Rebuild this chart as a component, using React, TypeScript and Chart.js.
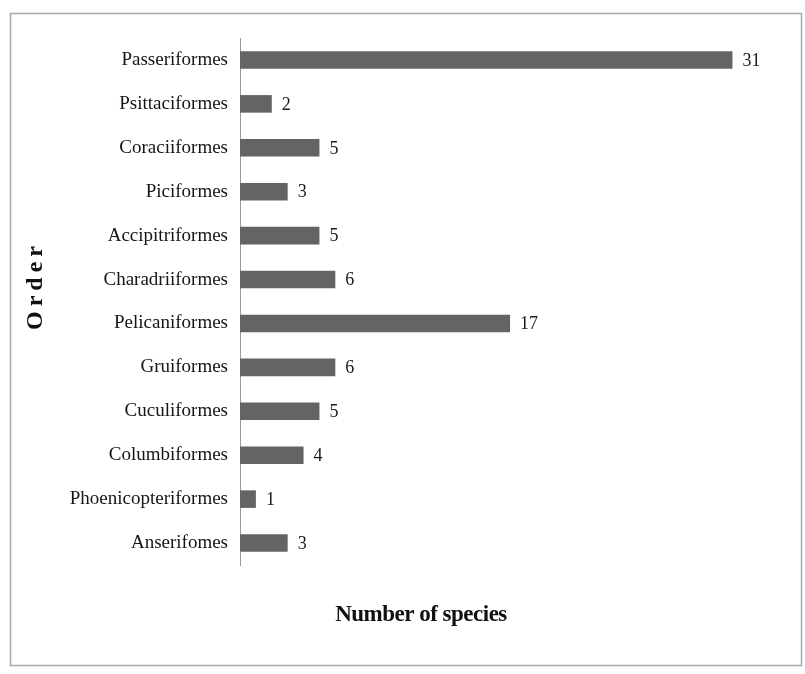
import React, { useEffect, useRef } from "react";
import { Chart, registerables } from "chart.js";

Chart.register(...registerables);

const categories = [
  "Passeriformes",
  "Psittaciformes",
  "Coraciiformes",
  "Piciformes",
  "Accipitriformes",
  "Charadriiformes",
  "Pelicaniformes",
  "Gruiformes",
  "Cuculiformes",
  "Columbiformes",
  "Phoenicopteriformes",
  "Anserifomes",
];
const speciesCounts = [31, 2, 5, 3, 5, 6, 17, 6, 5, 4, 1, 3];
const xTitle = "Number of species";
const yTitle = "Order";

const SERIF = "'Liberation Serif', 'Times New Roman', serif";

const frameAndLabels = {
  id: "frameAndLabels",
  beforeDraw(chart: any) {
    const ctx = chart.ctx;
    ctx.save();
    ctx.strokeStyle = "#a8a8a8";
    ctx.lineWidth = 1.5;
    ctx.strokeRect(10.5, 13.5, 791, 652);
    ctx.restore();
  },
  afterDatasetsDraw(chart: any) {
    const ctx = chart.ctx;
    const meta = chart.getDatasetMeta(0);
    ctx.save();
    ctx.fillStyle = "#1a1a1a";
    ctx.font = `18px ${SERIF}`;
    ctx.textAlign = "left";
    ctx.textBaseline = "middle";
    meta.data.forEach((bar: any, i: number) => {
      ctx.fillText(String(speciesCounts[i]), bar.x + 10, bar.y + 1);
    });
    // x title
    const ca = chart.chartArea;
    ctx.fillStyle = "#111";
    ctx.font = `bold 23px ${SERIF}`;
    ctx.textAlign = "center";
    (ctx as any).letterSpacing = "-0.5px";
    ctx.fillText(xTitle, ca.left + 181, ca.bottom + 50);
    // y title
    ctx.translate(36, (ca.top + ca.bottom) / 2 - 16);
    ctx.rotate(-Math.PI / 2);
    ctx.font = `bold 24px ${SERIF}`;
    (ctx as any).letterSpacing = "5px";
    ctx.textAlign = "center";
    ctx.fillText(yTitle, 0, 0);
    ctx.restore();
  },
};

export default function App() {
  const ref = useRef<HTMLCanvasElement | null>(null);
  useEffect(() => {
    document.body.style.margin = "0";
    if (!ref.current) return;
    const chart = new Chart(ref.current, {
      type: "bar",
      data: {
        labels: categories,
        datasets: [
          {
            data: speciesCounts,
            backgroundColor: "#646464",
            borderWidth: 0,
            barPercentage: 0.8,
            categoryPercentage: 0.5,
          },
        ],
      },
      options: {
        indexAxis: "y",
        animation: false,
        responsive: false,
        devicePixelRatio: 1,
        layout: { padding: { left: 0, top: 38, right: 9, bottom: 109 } },
        plugins: {
          legend: { display: false },
          tooltip: { enabled: false },
          title: { display: false },
        },
        scales: {
          x: {
            display: false,
            min: 0,
            max: 35,
          },
          y: {
            grid: { display: false, drawTicks: false },
            border: { display: true, color: "#9a9a9a", width: 1 },
            ticks: {
              color: "#151515",
              font: { family: SERIF, size: 19 },
              padding: 12,
            },
            afterFit(scale: any) {
              scale.width = 240;
            },
          },
        },
      },
      plugins: [frameAndLabels],
    });
    return () => chart.destroy();
  }, []);
  return (
    <div style={{ width: 805, height: 674, background: "#fff" }}>
      <canvas ref={ref} width={805} height={674} />
    </div>
  );
}
